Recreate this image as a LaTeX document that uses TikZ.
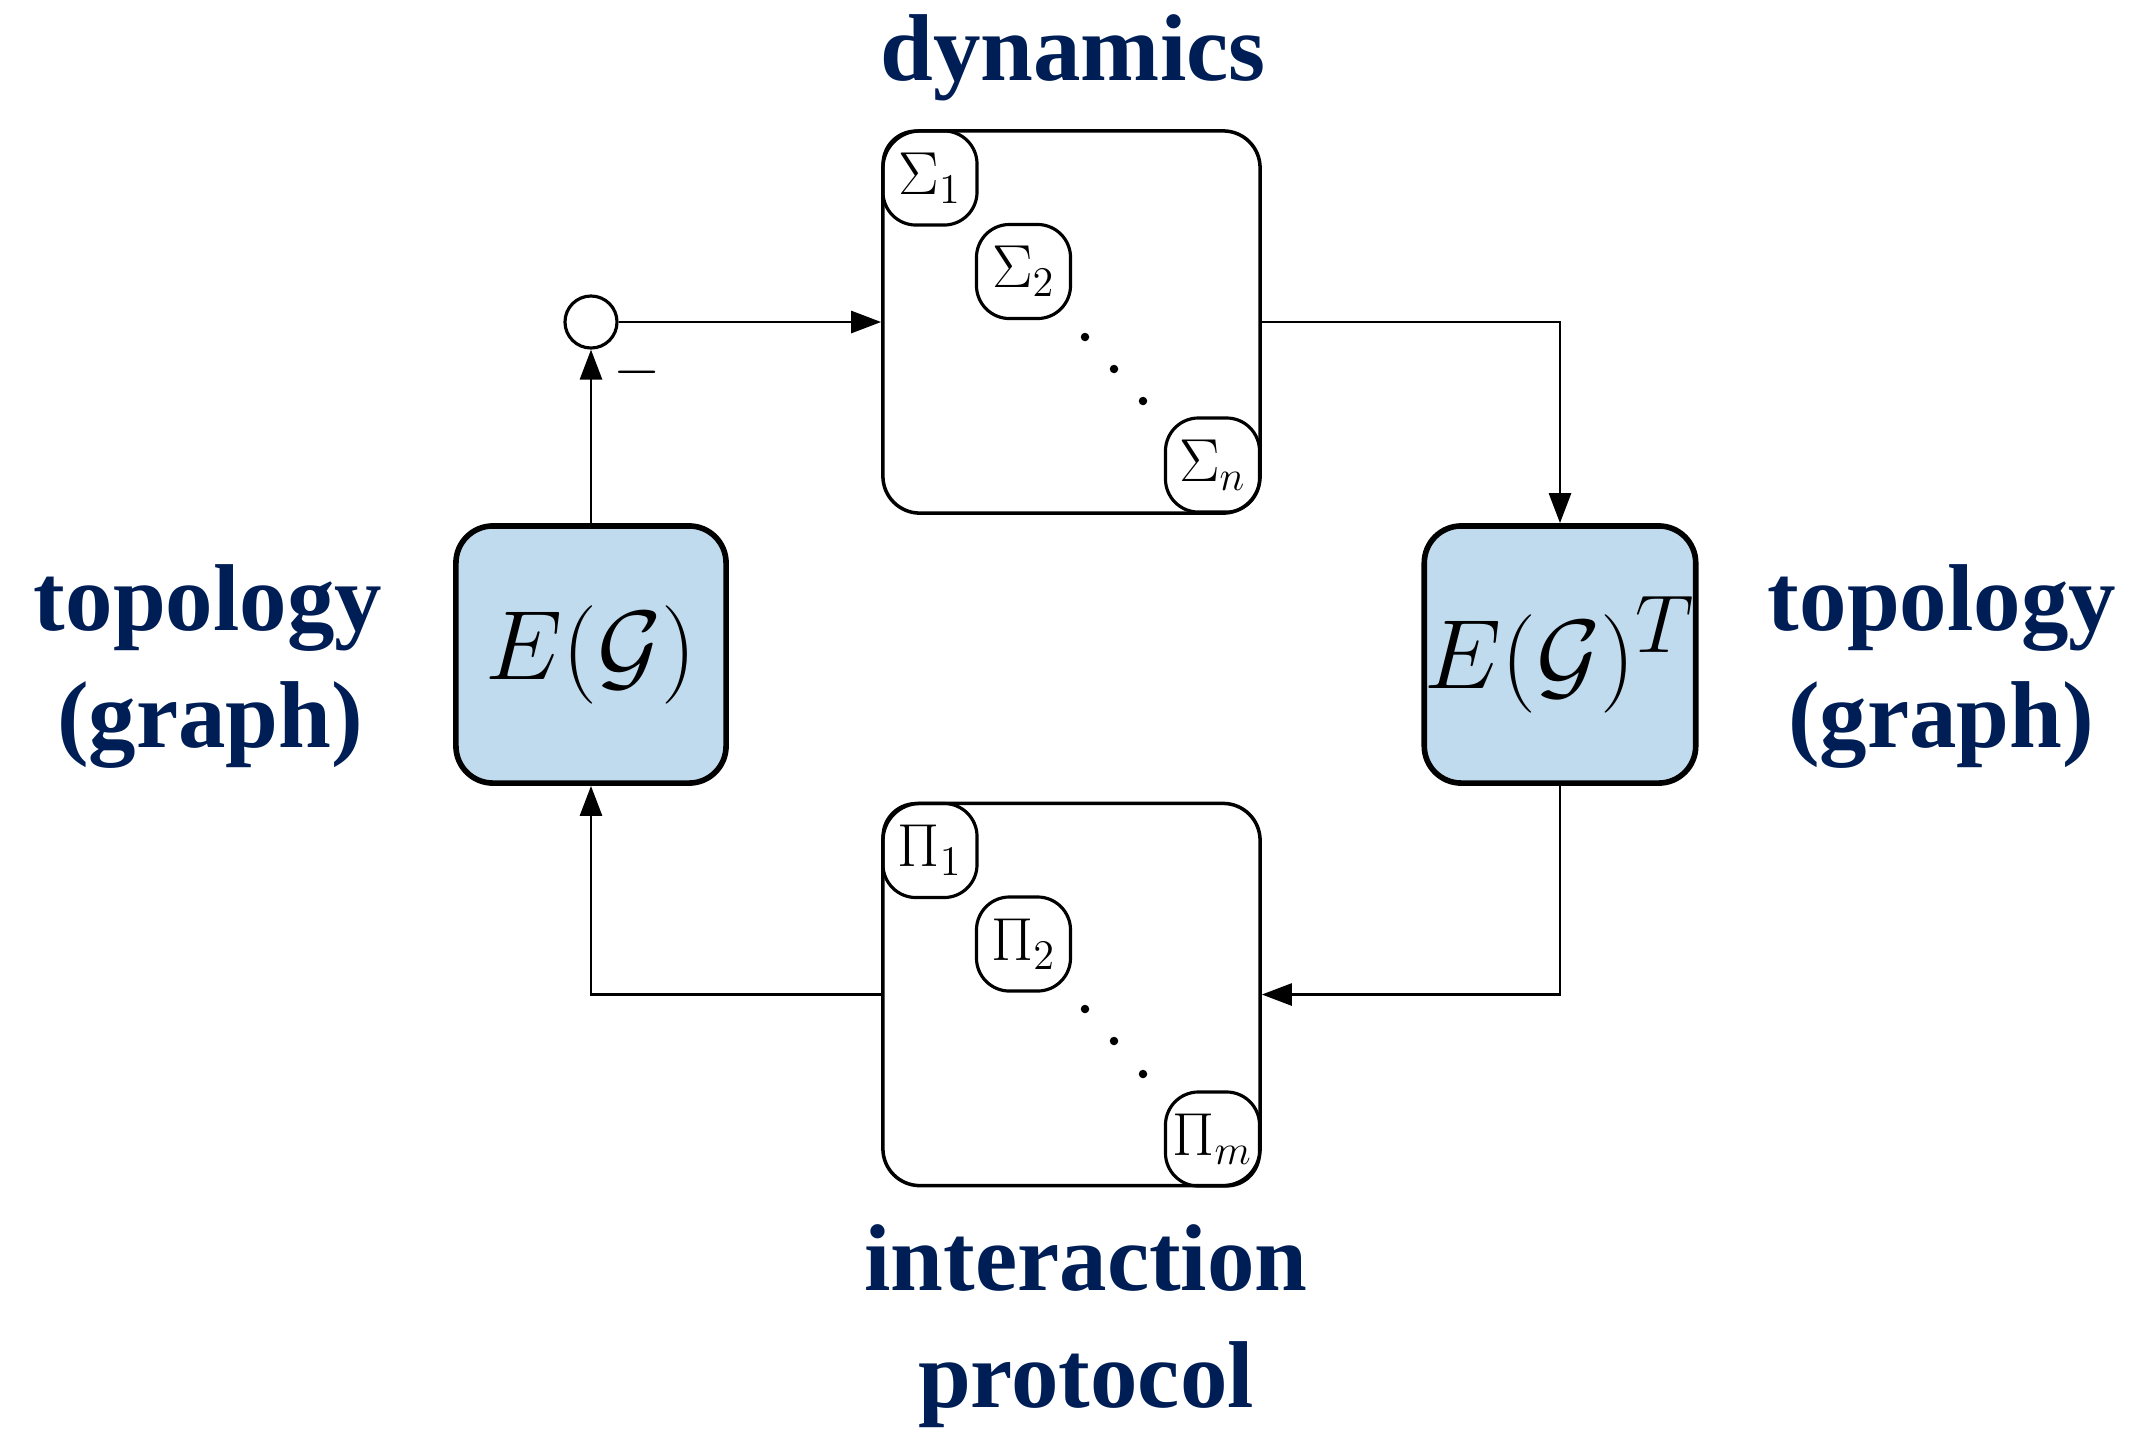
\documentclass[tikz,border=0pt]{standalone}
\usepackage{fontspec}
\usepackage{amsmath}
\usepackage{graphicx}
\usetikzlibrary{arrows.meta}
\newfontfamily\labelfont{Liberation Serif}
\definecolor{navy}{HTML}{001E56}
\definecolor{blockblue}{HTML}{C0DBEE}
\newcommand{\bigmath}[1]{\scalebox{1.125}{$#1$}}
\begin{document}
\begin{tikzpicture}[x=0.01cm,y=-0.01cm,
  wire/.style={line width=0.8pt},
  arr/.style={wire,-{Triangle[length=3mm,width=2.2mm]}},
  bigbox/.style={draw,line width=1pt,rounded corners=0.37cm,minimum width=3.77cm,minimum height=3.82cm,inner sep=0pt},
  subbox/.style={draw,line width=0.9pt,rounded corners=0.33cm,minimum width=0.94cm,minimum height=0.94cm,inner sep=0pt,font=\fontsize{17.28}{19}\selectfont},
  graphbox/.style={draw,fill=blockblue,line width=1.6pt,rounded corners=0.37cm,minimum width=2.70cm,minimum height=2.57cm,inner sep=0pt,font=\fontsize{24.88}{30}\selectfont},
  heading/.style={text=navy,anchor=base,inner sep=0pt,font=\labelfont\bfseries\fontsize{27}{33}\selectfont},
  dot/.style={circle,fill,inner sep=0pt,minimum size=0.085cm}
]
\useasboundingbox (0,0) rectangle (2141,1429);

% dynamics block
\node[bigbox] (dyn) at (1071.5,322) {};
\node[subbox] (s1) at (930,178) {$\Sigma_1$};
\node[subbox] (s2) at (1023.5,271.5) {$\Sigma_2$};
\node[subbox] (sn) at (1212.5,465) {$\Sigma_n$};
\node[dot] (sd1) at (1085,337) {};
\node[dot] (sd2) at (1114,369) {};
\node[dot] (sd3) at (1143,401) {};

% interaction protocol block
\node[bigbox] (int) at (1071.5,994.5) {};
\node[subbox] (p1) at (930,850.5) {$\Pi_1$};
\node[subbox] (p2) at (1023.5,944) {$\Pi_2$};
\node[subbox] (pm) at (1212.5,1139) {$\Pi_m$};
\node[dot] (pd1) at (1085,1009) {};
\node[dot] (pd2) at (1114,1041) {};
\node[dot] (pd3) at (1143,1074) {};

% incidence matrices
\node[graphbox] (E) at (591,654.5) {\bigmath{E(\mathcal{G})}};
\node[graphbox] (ET) at (1560,654.5) {\bigmath{E(\mathcal{G})^T}};

% summing junction
\node[draw,circle,line width=0.9pt,minimum size=0.52cm,inner sep=0pt] (sum) at (591,322) {};
\node[inner sep=0pt,font=\fontsize{17.28}{19}\selectfont] (minus) at (637,372) {$-$};

% signal flow
\draw[arr] (E.north) -- (sum.south);
\draw[arr] (sum.east) -- (dyn.west);
\draw[arr] (dyn.east) -| (ET.north);
\draw[arr] (ET.south) |- (int.east);
\draw[arr] (int.west) -| (E.south);

% headings
\node[heading] (hdyn) at (1073,80) {dynamics};
\node[heading] (htopl) at (208,630) {topology};
\node[heading] (hgrl) at (210,747) {(graph)};
\node[heading] (htopr) at (1942,630) {topology};
\node[heading] (hgrr) at (1941,747) {(graph)};
\node[heading] (hint) at (1086,1290) {interaction};
\node[heading] (hprot) at (1086,1407) {protocol};
\end{tikzpicture}
\end{document}
